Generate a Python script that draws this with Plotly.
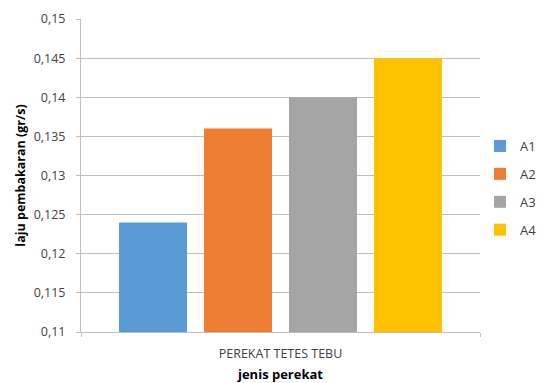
import plotly.graph_objects as go

category = ["PEREKAT TETES TEBU"]
series_names = ["A1", "A2", "A3", "A4"]
series_values = [0.124, 0.136, 0.140, 0.145]
colors = ["#5B9BD5", "#ED7D31", "#A5A5A5", "#FFC000"]
tick_vals = [0.11, 0.115, 0.12, 0.125, 0.13, 0.135, 0.14, 0.145, 0.15]
tick_text = ["0,11", "0,115", "0,12", "0,125", "0,13", "0,135", "0,14", "0,145", "0,15"]

FONT = "Open Sans"

fig = go.Figure()
for name, val, col in zip(series_names, series_values, colors):
    fig.add_trace(go.Bar(
        x=category, y=[val], name=name, marker_color=col,
        marker_line_width=0, legendgroup=name,
    ))

fig.update_layout(
    width=538, height=383,
    margin=dict(l=81, r=58, t=19, b=51, autoexpand=False),
    paper_bgcolor="white", plot_bgcolor="white",
    barmode="group", bargap=0.148, bargroupgap=0.2,
    font=dict(family=FONT, size=12, color="#404040"),
    showlegend=True,
    legend=dict(
        x=1.0, y=0.46, xanchor="left", yanchor="middle",
        font=dict(family=FONT, size=13, color="#404040"),
        tracegroupgap=8, itemwidth=30,
    ),
    xaxis=dict(
        showline=True, linecolor="#BFBFBF", linewidth=1,
        ticks="outside", tickson="boundaries", ticklen=4, tickcolor="#BFBFBF",
        ticklabelstandoff=10,
        tickfont=dict(size=12.5, color="#404040"),
        title=dict(text="<b>jenis perekat</b>", font=dict(size=13, color="#000000"), standoff=11),
    ),
    yaxis=dict(
        range=[0.11, 0.15], tickvals=tick_vals, ticktext=tick_text,
        showgrid=True, gridcolor="#BFBFBF", gridwidth=1,
        showline=True, linecolor="#BFBFBF", linewidth=1,
        ticks="outside", ticklen=4, tickcolor="#BFBFBF",
        ticklabelstandoff=8,
        tickfont=dict(size=12.5, color="#404040"),
        zeroline=False,
        title=dict(text="<b>laju pembakaran (gr/s)</b>", font=dict(size=12.5, color="#000000"), standoff=5),
    ),
)

fig.write_html("out.html")
